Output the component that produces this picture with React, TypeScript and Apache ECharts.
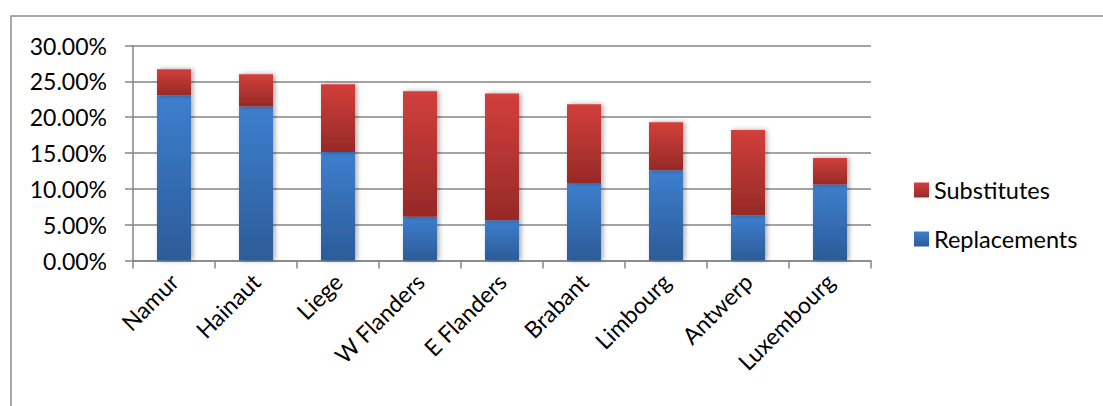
import React, { useEffect, useRef } from "react";
import * as echarts from "echarts";

const categories = ["Namur", "Hainaut", "Liege", "W Flanders", "E Flanders", "Brabant", "Limbourg", "Antwerp", "Luxembourg"];
const replacements = [23.05, 21.5, 15.15, 6.1, 5.6, 10.8, 12.6, 6.3, 10.6];
const substitutes = [3.65, 4.5, 9.45, 17.5, 17.7, 11.0, 6.7, 11.9, 3.7];
const yTicks = [0, 5, 10, 15, 20, 25, 30];

const FONT = "Lato";
const FS = 23;

function grad(top: string, bottom: string) {
  return new echarts.graphic.LinearGradient(0, 0, 0, 1, [
    { offset: 0, color: top },
    { offset: 1, color: bottom },
  ]);
}

export default function App() {
  const ref = useRef<HTMLDivElement>(null);
  useEffect(() => {
    document.body.style.margin = "0";
    const chart = echarts.init(ref.current!, null, { renderer: "svg" });
    const shadow = {
      shadowBlur: 5,
      shadowColor: "rgba(0,0,0,0.35)",
      shadowOffsetX: 2,
      shadowOffsetY: 0,
    };
    chart.setOption({
      animation: false,
      backgroundColor: "#fff",
      graphic: [
        {
          type: "rect",
          shape: { x: 11, y: 16, width: 1200, height: 500 },
          style: { fill: "none", stroke: "#8c8c8c", lineWidth: 1.5 },
          silent: true,
        },
      ],
      grid: { left: 133, right: 232, top: 45.5, bottom: 145.5, containLabel: false },
      legend: {
        orient: "vertical",
        left: 909,
        top: 173,
        itemWidth: 15,
        itemHeight: 15,
        itemGap: 25,
        icon: "rect",
        data: ["Substitutes", "Replacements"],
        textStyle: { fontFamily: FONT, fontSize: FS + 0.5, color: "#000" },
      },
      xAxis: {
        type: "category",
        data: categories,
        axisLine: { lineStyle: { color: "#868686", width: 1.5 } },
        axisTick: { show: true, length: 8, lineStyle: { color: "#868686", width: 1.5 } },
        axisLabel: { rotate: 45, fontFamily: FONT, fontSize: FS, color: "#000", margin: 17, interval: 0 },
      },
      yAxis: {
        type: "value",
        min: 0,
        max: 30,
        interval: 5,
        axisLine: { show: true, lineStyle: { color: "#868686", width: 1.5 } },
        axisTick: { show: true, length: 8, lineStyle: { color: "#868686", width: 1.5 } },
        splitLine: { lineStyle: { color: "#868686", width: 1.5 } },
        axisLabel: {
          fontFamily: FONT,
          fontSize: FS,
          color: "#000",
          margin: 26,
          formatter: (v: number) => (yTicks.includes(v) ? v.toFixed(2) + "%" : ""),
        },
      },
      series: [
        {
          name: "Replacements",
          type: "bar",
          stack: "total",
          barWidth: 34,
          data: replacements,
          itemStyle: { color: grad("#3d7fcf", "#2c5c98"), ...shadow },
        },
        {
          name: "Substitutes",
          type: "bar",
          stack: "total",
          barWidth: 34,
          data: substitutes,
          itemStyle: { color: grad("#d23f3b", "#962a27"), ...shadow },
        },
      ],
    });
    return () => chart.dispose();
  }, []);
  return <div ref={ref} style={{ width: 1103, height: 406 }} />;
}
